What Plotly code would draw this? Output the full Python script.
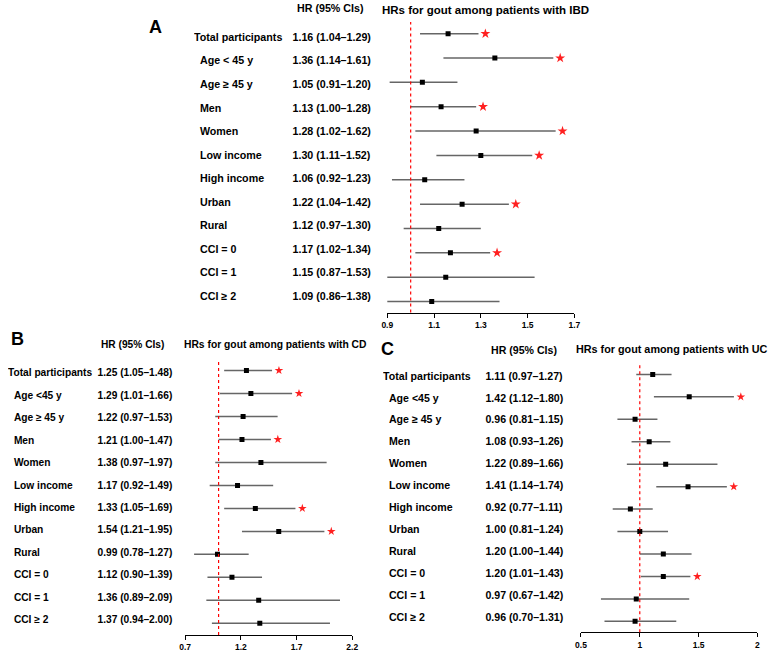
import plotly.graph_objects as go

W, H = 774, 652
FONT = "Liberation Sans, Arial, sans-serif"

# ---------------- data ----------------
groups_A = ["Total participants", "Age < 45 y", "Age ≥ 45 y", "Men", "Women", "Low income",
            "High income", "Urban", "Rural", "CCI = 0", "CCI = 1", "CCI ≥ 2"]
hr_A = [1.16, 1.36, 1.05, 1.13, 1.28, 1.30, 1.06, 1.22, 1.12, 1.17, 1.15, 1.09]
lo_A = [1.04, 1.14, 0.91, 1.00, 1.02, 1.11, 0.92, 1.04, 0.97, 1.02, 0.87, 0.86]
hi_A = [1.29, 1.61, 1.20, 1.28, 1.62, 1.52, 1.23, 1.42, 1.30, 1.34, 1.53, 1.38]
sig_A = [1, 1, 0, 1, 1, 1, 0, 1, 0, 1, 0, 0]
ticks_A = [0.9, 1.1, 1.3, 1.5, 1.7]
ticktext_A = ["0.9", "1.1", "1.3", "1.5", "1.7"]

groups_B = ["Total participants", "Age <45 y", "Age ≥ 45 y", "Men", "Women", "Low income",
            "High income", "Urban", "Rural", "CCI = 0", "CCI = 1", "CCI ≥ 2"]
hr_B = [1.25, 1.29, 1.22, 1.21, 1.38, 1.17, 1.33, 1.54, 0.99, 1.12, 1.36, 1.37]
lo_B = [1.05, 1.01, 0.97, 1.00, 0.97, 0.92, 1.05, 1.21, 0.78, 0.90, 0.89, 0.94]
hi_B = [1.48, 1.66, 1.53, 1.47, 1.97, 1.49, 1.69, 1.95, 1.27, 1.39, 2.09, 2.00]
sig_B = [1, 1, 0, 1, 0, 0, 1, 1, 0, 0, 0, 0]
ticks_B = [0.7, 1.2, 1.7, 2.2]
ticktext_B = ["0.7", "1.2", "1.7", "2.2"]

groups_C = ["Total participants", "Age <45 y", "Age ≥ 45 y", "Men", "Women", "Low income",
            "High income", "Urban", "Rural", "CCI = 0", "CCI = 1", "CCI ≥ 2"]
hr_C = [1.11, 1.42, 0.96, 1.08, 1.22, 1.41, 0.92, 1.00, 1.20, 1.20, 0.97, 0.96]
lo_C = [0.97, 1.12, 0.81, 0.93, 0.89, 1.14, 0.77, 0.81, 1.00, 1.01, 0.67, 0.70]
hi_C = [1.27, 1.80, 1.15, 1.26, 1.66, 1.74, 1.11, 1.24, 1.44, 1.43, 1.42, 1.31]
sig_C = [0, 1, 0, 0, 0, 1, 0, 0, 0, 1, 0, 0]
ticks_C = [0.5, 1.0, 1.5, 2.0]
ticktext_C = ["0.5", "1", "1.5", "2"]

REF = 1.0
HR_HEADER = "HR (95% CIs)"

panels = [
    dict(letter="A", title="HRs for gout among patients with IBD",
         groups=groups_A, hr=hr_A, lo=lo_A, hi=hi_A, sig=sig_A, ticks=ticks_A, ticktext=ticktext_A,
         letter_xy=(152, 27), lab_left=191, lab_right=289, indent=6, lab_rows=(38.3, 297.7),
         hr_left=291, hr_head=(330, 8), title_xy=(487.5, 10), px0=387.3, px1=577.3,
         top=22, bottom=313, rows=(33.7, 302), fs=10.7, tfs=11.5, star=7.5),
    dict(letter="B", title="HRs for gout among patients with CD",
         groups=groups_B, hr=hr_B, lo=lo_B, hi=hi_B, sig=sig_B, ticks=ticks_B, ticktext=ticktext_B,
         letter_xy=(12, 340), lab_left=2, lab_right=88, indent=6, lab_rows=(374.3, 621.7),
         hr_left=93, hr_head=(128, 345), title_xy=(273, 345), px0=182, px1=351.7,
         top=360, bottom=636, rows=(371, 624.3), fs=10.2, tfs=10.3, star=6.5),
    dict(letter="C", title="HRs for gout among patients with UC",
         groups=groups_C, hr=hr_C, lo=lo_C, hi=hi_C, sig=sig_C, ticks=ticks_C, ticktext=ticktext_C,
         letter_xy=(387, 350), lab_left=383, lab_right=485, indent=6, lab_rows=(377.5, 619.5),
         hr_left=487, hr_head=(526, 351), title_xy=(676, 350), px0=584, px1=763.3,
         top=363, bottom=633.3, rows=(375, 622.3), fs=10.6, tfs=10.8, star=6.5),
]

fig = go.Figure()
layout = dict(width=W, height=H, margin=dict(l=0, r=0, t=0, b=0),
              paper_bgcolor="white", plot_bgcolor="rgba(0,0,0,0)", showlegend=False,
              font=dict(family=FONT, color="black"))
annotations = []
shapes = []

def ydom(first_px, last_px, n, pad_top, pad_bot):
    sp = (last_px - first_px) / (n - 1)
    top = first_px - pad_top
    bot = last_px + pad_bot
    return [1 - bot / H, 1 - top / H], [n - 1 + pad_bot / sp, -pad_top / sp]

def nm(k, kind):
    return f"{kind}{'' if k == 1 else k}"

ax = 1
for p in panels:
    n = len(p["groups"])
    idx = list(range(n))
    xl, xh, xp = ax, ax + 1, ax + 2
    yt, yp = ax, ax + 1
    ax += 3

    dom, rng = ydom(p["lab_rows"][0], p["lab_rows"][1], n, 12, 12)
    layout[nm(yt, "yaxis")] = dict(domain=dom, range=rng, visible=False, fixedrange=True,
                                   anchor=nm(xl, "x"))
    sp = (p["rows"][1] - p["rows"][0]) / (n - 1)
    pdom = [1 - p["bottom"] / H, 1 - p["top"] / H]
    prng = [n - 1 + (p["bottom"] - p["rows"][1]) / sp, -(p["rows"][0] - p["top"]) / sp]
    layout[nm(yp, "yaxis")] = dict(domain=pdom, range=prng, visible=False, fixedrange=True,
                                   anchor=nm(xp, "x"))
    lw = p["lab_right"] - p["lab_left"]
    layout[nm(xl, "xaxis")] = dict(domain=[p["lab_left"] / W, p["lab_right"] / W], range=[0, lw],
                                   visible=False, fixedrange=True, anchor=nm(yt, "y"))
    layout[nm(xh, "xaxis")] = dict(domain=[p["hr_left"] / W, (p["hr_left"] + 90) / W], range=[0, 90],
                                   visible=False, fixedrange=True, anchor=nm(yt, "y"))
    layout[nm(xp, "xaxis")] = dict(domain=[p["px0"] / W, p["px1"] / W],
                                   range=[p["ticks"][0], p["ticks"][-1]],
                                   showline=True, linecolor="black", linewidth=1,
                                   ticks="outside", ticklen=4, tickcolor="black", tickwidth=1,
                                   tickvals=p["ticks"], ticktext=p["ticktext"],
                                   tickfont=dict(size=8.5, family=FONT, weight="bold", color="black"),
                                   showgrid=False, zeroline=False, fixedrange=True,
                                   anchor=nm(yp, "y"))

    fig.add_trace(go.Scatter(
        x=[0 if i == 0 else p["indent"] for i in idx], y=idx, text=p["groups"],
        mode="text", textposition="middle right",
        textfont=dict(size=p["fs"], family=FONT, weight="bold", color="black"),
        xaxis=nm(xl, "x"), yaxis=nm(yt, "y"), hoverinfo="skip", cliponaxis=True))
    hrtxt = [f"{h:.2f} ({l:.2f}–{u:.2f})" for h, l, u in zip(p["hr"], p["lo"], p["hi"])]
    fig.add_trace(go.Scatter(
        x=[0] * n, y=idx, text=hrtxt, mode="text", textposition="middle right",
        textfont=dict(size=p["fs"], family=FONT, weight="bold", color="black"),
        xaxis=nm(xh, "x"), yaxis=nm(yt, "y"), hoverinfo="skip", cliponaxis=False))

    cx, cy = [], []
    for i in idx:
        cx += [p["lo"][i], p["hi"][i], None]
        cy += [i, i, None]
    fig.add_trace(go.Scatter(x=cx, y=cy, mode="lines", line=dict(color="#666666", width=1.5),
                             xaxis=nm(xp, "x"), yaxis=nm(yp, "y"), hoverinfo="skip"))
    fig.add_trace(go.Scatter(x=p["hr"], y=idx, mode="markers",
                             marker=dict(symbol="square", size=5, color="black"),
                             xaxis=nm(xp, "x"), yaxis=nm(yp, "y"), hoverinfo="skip"))
    per_px = (p["ticks"][-1] - p["ticks"][0]) / (p["px1"] - p["px0"])
    sx = [p["hi"][i] + 7 * per_px for i in idx if p["sig"][i]]
    sy = [i for i in idx if p["sig"][i]]
    fig.add_trace(go.Scatter(x=sx, y=sy, mode="markers",
                             marker=dict(symbol="star", size=p["star"], color="#ff2020",
                                         line=dict(width=0)),
                             xaxis=nm(xp, "x"), yaxis=nm(yp, "y"), hoverinfo="skip",
                             cliponaxis=False))
    shapes.append(dict(type="line", xref=nm(xp, "x"), yref=nm(yp, "y") + " domain",
                       x0=REF, x1=REF, y0=0, y1=1,
                       line=dict(color="red", width=1.2, dash="dot")))

    annotations.append(dict(text=p["letter"], x=p["letter_xy"][0] / W, y=1 - p["letter_xy"][1] / H,
                            xref="paper", yref="paper", showarrow=False, xanchor="center",
                            yanchor="middle", font=dict(size=18, family=FONT, weight="bold",
                                                        color="black")))
    annotations.append(dict(text=HR_HEADER, x=p["hr_head"][0] / W, y=1 - p["hr_head"][1] / H,
                            xref="paper", yref="paper", showarrow=False, xanchor="center",
                            yanchor="middle", font=dict(size=p["fs"], family=FONT, weight="bold",
                                                        color="black")))
    annotations.append(dict(text=p["title"], x=p["title_xy"][0] / W, y=1 - p["title_xy"][1] / H,
                            xref="paper", yref="paper", showarrow=False, xanchor="center",
                            yanchor="middle", font=dict(size=p["tfs"], family=FONT, weight="bold",
                                                        color="black")))

layout["annotations"] = annotations
layout["shapes"] = shapes
fig.update_layout(**layout)
fig.write_html("out.html")
